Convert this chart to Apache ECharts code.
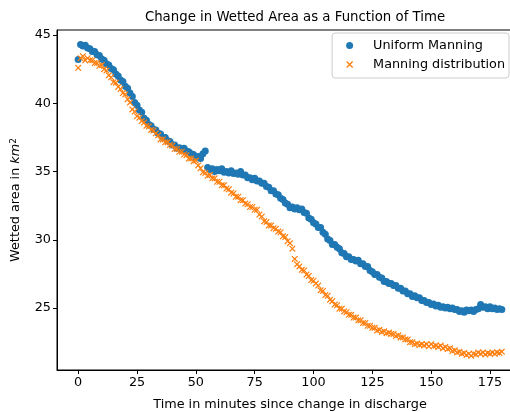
<!DOCTYPE html>
<html>
<head>
<meta charset="utf-8">
<script src="https://cdn.jsdelivr.net/npm/echarts@6/dist/echarts.min.js"></script>
<style>html,body{margin:0;padding:0;background:#fff}#c{width:510px;height:412px}</style>
</head>
<body>
<div id="c"></div>
<script>
const minutes = Array.from({length: 181}, (_, i) => i);
const uniformManning = [
43.2,44.3,44.2,44.25,44.05,44.0,43.8,43.8,43.55,43.5,
43.25,43.15,42.9,42.8,42.55,42.45,42.15,42.0,41.7,41.6,
41.25,41.1,40.75,40.5,40.05,39.85,39.5,39.35,38.9,38.75,
38.45,38.35,38.1,38.05,37.8,37.75,37.5,37.5,37.25,37.2,
36.95,36.95,36.7,36.75,36.6,36.7,36.5,36.45,36.3,36.25,
36.05,36.1,35.95,36.3,36.5,35.3,35.15,35.2,35.0,35.15,
35.05,35.2,34.95,35.0,34.9,35.05,34.85,34.9,34.8,35.0,
34.75,34.75,34.55,34.55,34.4,34.5,34.3,34.3,34.15,34.15,
33.9,33.85,33.6,33.6,33.35,33.3,33.05,32.95,32.7,32.6,
32.35,32.4,32.25,32.35,32.2,32.25,32.0,31.95,31.6,31.5,
31.25,31.15,30.9,30.9,30.55,30.4,30.05,29.95,29.65,29.65,
29.45,29.35,29.05,29.0,28.75,28.75,28.55,28.55,28.45,28.5,
28.25,28.25,28.05,28.05,27.75,27.65,27.45,27.45,27.25,27.2,
26.95,26.95,26.8,26.8,26.65,26.65,26.45,26.45,26.25,26.25,
26.05,26.05,25.85,25.9,25.75,25.75,25.55,25.55,25.4,25.4,
25.25,25.3,25.15,25.2,25.05,25.1,25.0,25.05,24.95,25.0,
24.9,24.9,24.75,24.8,24.7,24.85,24.8,24.85,24.75,24.9,
24.95,25.25,25.05,25.1,24.95,25.1,24.95,25.0,24.9,24.95,
24.9];
const manningDistribution = [
42.6,43.3,43.45,43.15,43.3,43.15,43.15,42.95,42.95,42.75,
42.8,42.5,42.4,42.05,41.9,41.55,41.5,41.2,41.05,40.75,
40.65,40.3,40.05,39.55,39.4,39.05,38.95,38.7,38.6,38.35,
38.3,38.05,38.0,37.8,37.65,37.35,37.35,37.15,37.15,36.95,
36.9,36.65,36.65,36.45,36.45,36.25,36.2,35.95,35.95,35.75,
35.8,35.45,35.25,34.95,34.9,34.7,34.75,34.5,34.5,34.25,
34.25,34.0,34.0,33.75,33.7,33.45,33.4,33.15,33.15,32.9,
32.9,32.65,32.6,32.4,32.4,32.2,32.2,31.85,31.7,31.35,
31.3,31.05,31.05,30.85,30.8,30.6,30.55,30.25,30.2,29.9,
29.75,29.35,28.6,28.2,28.05,27.8,27.75,27.45,27.35,27.05,
27.0,26.8,26.65,26.3,26.25,25.95,25.9,25.6,25.5,25.25,
25.2,24.95,24.95,24.75,24.7,24.5,24.5,24.3,24.3,24.1,
24.1,23.9,23.9,23.7,23.7,23.55,23.55,23.35,23.4,23.25,
23.3,23.15,23.2,23.1,23.1,22.95,23.0,22.85,22.85,22.7,
22.7,22.5,22.5,22.35,22.4,22.3,22.35,22.25,22.35,22.2,
22.35,22.2,22.25,22.15,22.25,22.05,22.15,22.0,22.05,21.85,
21.9,21.75,21.8,21.65,21.7,21.55,21.65,21.5,21.65,21.6,
21.75,21.65,21.75,21.6,21.7,21.65,21.75,21.65,21.75,21.7,
21.8];
const xTicks = [0, 25, 50, 75, 100, 125, 150, 175];
const yTicks = [25, 30, 35, 40, 45];

const FONT = 'DejaVu Sans';
const FS = 12.8;
const xMark = 'path://M0,1.3L1.3,0L5,3.7L8.7,0L10,1.3L6.3,5L10,8.7L8.7,10L5,6.3L1.3,10L0,8.7L3.7,5Z';
const chart = echarts.init(document.getElementById('c'), null, {renderer: 'canvas'});
chart.setOption({
  animation: false,
  backgroundColor: '#fff',
  title: {
    text: 'Change in Wetted Area as a Function of Time',
    left: 290, top: 6, textAlign: 'center',
    textStyle: {fontFamily: FONT, fontSize: 13.3, fontWeight: 'normal', color: '#000'}
  },
  legend: {
    orient: 'vertical', right: 1, top: 33,
    backgroundColor: 'rgba(255,255,255,0.85)',
    borderColor: '#cccccc', borderWidth: 1, borderRadius: 3,
    padding: [5, 4, 6, 14],
    itemWidth: 7, itemHeight: 7, itemGap: 4,
    textStyle: {fontFamily: FONT, fontSize: FS, color: '#000', lineHeight: 15, padding: [0, 0, 0, 15]},
    data: [
      {name: 'Uniform Manning', icon: 'circle'},
      {name: 'Manning distribution', icon: xMark}
    ]
  },
  grid: {
    left: 57, top: 30, width: 466, height: 340,
    outerBoundsMode: 'none',
    show: true, borderColor: '#000', borderWidth: 1, backgroundColor: 'transparent',
    containLabel: false
  },
  xAxis: {
    type: 'value', min: -9, max: 189,
    name: 'Time in minutes since change in discharge',
    nameLocation: 'middle', nameGap: 28,
    nameTextStyle: {fontFamily: FONT, fontSize: FS, color: '#000'},
    axisLine: {show: true, onZero: false, lineStyle: {color: '#000', width: 1}},
    axisTick: {show: true, length: 4, inside: false, customValues: xTicks, lineStyle: {color: '#000'}},
    axisLabel: {customValues: xTicks, fontFamily: FONT, fontSize: FS, color: '#000', margin: 6},
    splitLine: {show: false}
  },
  yAxis: {
    type: 'value', min: 20.46, max: 45.37,
    name: '{a|Wetted area in }{i|km}{s|2}',
    nameLocation: 'middle', nameGap: 30, nameRotate: 90,
    nameTextStyle: {
      fontFamily: FONT, fontSize: FS, color: '#000',
      rich: {
        a: {fontFamily: FONT, fontSize: FS, color: '#000'},
        i: {fontFamily: FONT, fontSize: FS, fontStyle: 'italic', color: '#000'},
        s: {fontFamily: FONT, fontSize: 9, color: '#000', verticalAlign: 'top', lineHeight: 10, padding: [0, 0, 6, 0]}
      }
    },
    axisLine: {show: true, onZero: false, lineStyle: {color: '#000', width: 1}},
    axisTick: {show: true, length: 4, inside: false, customValues: yTicks, lineStyle: {color: '#000'}},
    axisLabel: {customValues: yTicks, fontFamily: FONT, fontSize: FS, color: '#000', margin: 6},
    splitLine: {show: false}
  },
  series: [
    {
      name: 'Uniform Manning', type: 'scatter',
      data: minutes.map((m, i) => [m, uniformManning[i]]),
      symbol: 'circle', symbolSize: 7,
      itemStyle: {color: '#1f77b4', opacity: 1}
    },
    {
      name: 'Manning distribution', type: 'scatter',
      data: minutes.map((m, i) => [m, manningDistribution[i]]),
      symbol: xMark, symbolSize: 6.5,
      itemStyle: {color: '#ff7f0e', opacity: 1}
    }
  ]
});
</script>
</body>
</html>
